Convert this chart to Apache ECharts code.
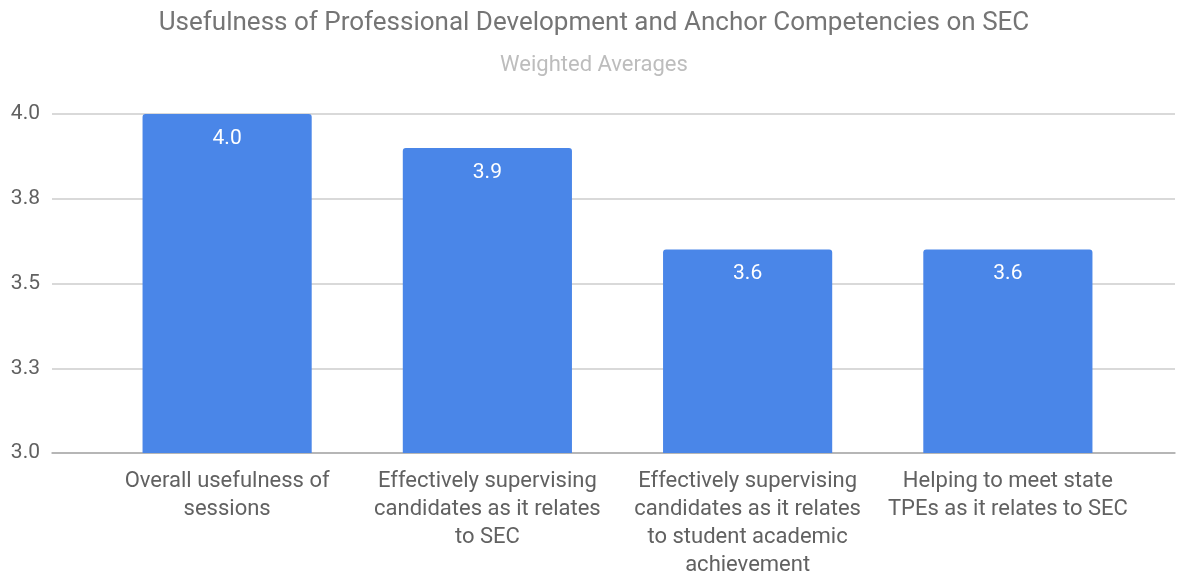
<!DOCTYPE html>
<html><head><meta charset="utf-8">
<script src="https://cdn.jsdelivr.net/npm/echarts@6/dist/echarts.min.js"></script>
<style>html,body{margin:0;padding:0;background:#fff}#c{width:1177px;height:571px}</style>
</head><body><div id="c"></div>
<script>
const categories = [
  'Overall usefulness of\nsessions',
  'Effectively supervising\ncandidates as it relates\nto SEC',
  'Effectively supervising\ncandidates as it relates\nto student academic\nachievement',
  'Helping to meet state\nTPEs as it relates to SEC'
];
const values = [4.0, 3.9, 3.6, 3.6];
const yTicks = [3.0, 3.25, 3.5, 3.75, 4.0];
const yTickLabels = ['3.0', '3.3', '3.5', '3.8', '4.0'];
const titleText = 'Usefulness of Professional Development and Anchor Competencies on SEC';
const subtitleText = 'Weighted Averages';

const chart = echarts.init(document.getElementById('c'), null, {renderer: 'canvas'});
const font = 'Roboto, "Noto Sans", sans-serif';
chart.setOption({
  animation: false,
  textStyle: {fontFamily: font},
  title: {
    text: titleText, subtext: subtitleText, left: 589, textAlign: 'center', top: 5,
    textStyle: {fontFamily: font, fontSize: 26, fontWeight: 'normal', color: '#757575'},
    subtextStyle: {fontFamily: font, fontSize: 22, color: '#bdbdbd'},
    itemGap: 18
  },
  grid: [
    {left: 52, right: 2, top: 114, bottom: 118, outerBoundsMode: 'none', containLabel: false},
    {left: 97, right: 39, top: 114, bottom: 118, outerBoundsMode: 'none', containLabel: false}
  ],
  xAxis: [
    {gridIndex: 0, type: 'category', data: categories, show: true,
     axisLine: {show: true, lineStyle: {color: '#aaaaaa', width: 1.5}},
     axisTick: {show: false}, axisLabel: {show: false}, splitLine: {show: false}},
    {gridIndex: 1, type: 'category', data: categories,
     axisLine: {show: false}, axisTick: {show: false},
     axisLabel: {interval: 0, color: '#616161', fontSize: 22, lineHeight: 28, margin: 14, fontFamily: font}}
  ],
  yAxis: [
    {gridIndex: 0, type: 'value', min: 3.0, max: 4.0, interval: 0.25,
     axisLine: {show: false}, axisTick: {show: false},
     axisLabel: {color: '#616161', fontSize: 21, margin: 12, fontFamily: font,
       formatter: v => { const i = yTicks.findIndex(t => Math.abs(t - v) < 1e-6); return i >= 0 ? yTickLabels[i] : ''; }},
     splitLine: {lineStyle: {color: '#cccccc', width: 1.5}}},
    {gridIndex: 1, type: 'value', min: 3.0, max: 4.0, interval: 0.25, show: false,
     splitLine: {show: false}}
  ],
  series: [{
    type: 'bar', xAxisIndex: 1, yAxisIndex: 1, data: values,
    barWidth: '65%',
    itemStyle: {color: '#4a86e8', borderRadius: [3, 3, 0, 0]},
    label: {show: true, position: 'insideTop', distance: 14, color: '#ffffff', fontSize: 21, fontFamily: font,
      formatter: p => p.value.toFixed(1)}
  }]
});
</script></body></html>
